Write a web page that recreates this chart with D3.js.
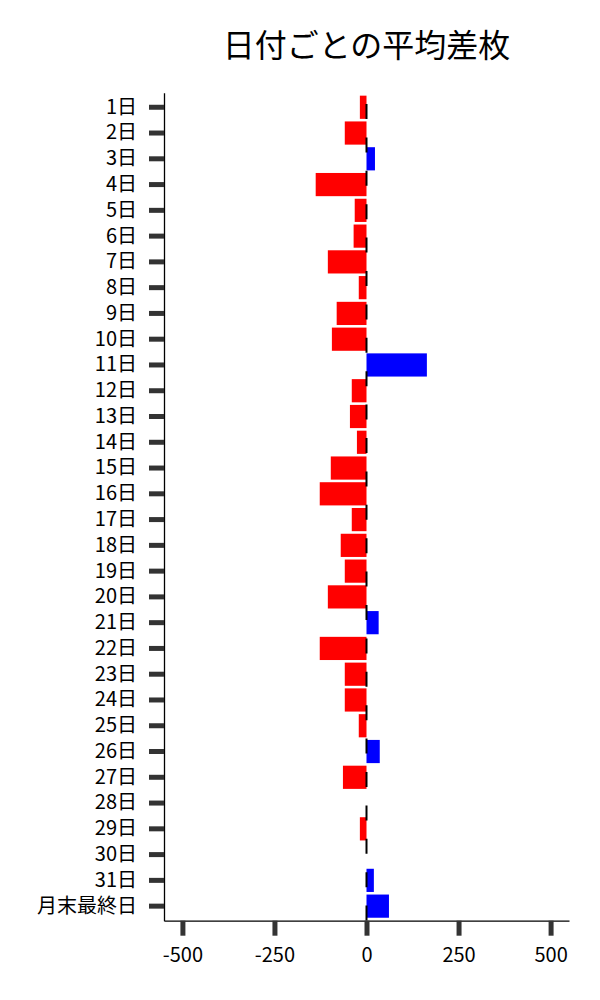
<!DOCTYPE html>
<html>
<head>
<meta charset="utf-8">
<script src="https://cdn.jsdelivr.net/npm/d3@7"></script>
<style>
  body { margin: 0; background: #fff; }
  svg { font-family: "Noto Sans CJK JP", "Noto Sans", sans-serif; }
</style>
</head>
<body>
<div id="container"></div>
<script>
// data
const days = ['1日','2日','3日','4日','5日','6日','7日','8日','9日','10日',
  '11日','12日','13日','14日','15日','16日','17日','18日','19日','20日',
  '21日','22日','23日','24日','25日','26日','27日','28日','29日','30日',
  '31日','月末最終日'];

const diffs = [-18, -59, 23, -138, -32, -35, -105, -21, -81, -94,
  164, -40, -45, -26, -97, -127, -40, -70, -59, -105,
  33, -127, -59, -59, -21, 36, -64, 0, -18, 0,
  20, 61];

const xTicks = [-500, -250, 0, 250, 500];
const title = '日付ごとの平均差枚';

const width = 600;
const height = 1000;
const plotLeft = 164, plotRight = 569, plotTop = 92.7, plotBottom = 920.7;

const svg = d3.select('#container')
  .append('svg')
  .attr('width', width)
  .attr('height', height);

const xScale = d3.scaleLinear()
  .domain([-550, 550])
  .range([plotLeft, plotRight]);

const yScale = d3.scaleBand()
  .domain(days)
  .range([plotTop, plotBottom])
  .paddingInner(0.1)
  .paddingOuter(0.115);

const data = days.map((d, i) => ({ day: d, value: diffs[i] }));

// bars
svg.selectAll('rect.bar')
  .data(data)
  .enter()
  .append('rect')
  .attr('class', 'bar')
  .attr('x', d => xScale(Math.min(0, d.value)))
  .attr('y', d => yScale(d.day))
  .attr('width', d => Math.abs(xScale(d.value) - xScale(0)))
  .attr('height', yScale.bandwidth())
  .attr('fill', d => d.value < 0 ? '#ff0000' : '#0000ff');

// zero line
const period = 33.4;
svg.append('line')
  .attr('x1', xScale(0))
  .attr('x2', xScale(0))
  .attr('y1', plotTop)
  .attr('y2', plotBottom)
  .attr('stroke', '#000')
  .attr('stroke-width', 2)
  .attr('stroke-dasharray', '15,18.4')
  .attr('stroke-dashoffset', period - 11.3);

// axes
const yAxis = d3.axisLeft(yScale)
  .tickSize(15)
  .tickSizeOuter(0)
  .tickPadding(12);

const gy = svg.append('g')
  .attr('transform', `translate(${plotLeft},0)`)
  .call(yAxis);

const xAxis = d3.axisBottom(xScale)
  .tickValues(xTicks)
  .tickFormat(d => String(d))
  .tickSize(15)
  .tickSizeOuter(0)
  .tickPadding(12);

const gx = svg.append('g')
  .attr('transform', `translate(0,${plotBottom})`)
  .call(xAxis);

[gx, gy].forEach(g => {
  g.select('.domain').attr('stroke', '#000').attr('stroke-width', 1.3);
  g.selectAll('.tick line').attr('stroke', '#333').attr('stroke-width', 5);
  g.selectAll('.tick text')
    .attr('fill', '#000')
    .style('font-size', '20px')
    .style('font-family', '"Noto Sans CJK JP", sans-serif');
});

// title
svg.append('text')
  .attr('x', (plotLeft + plotRight) / 2)
  .attr('y', 43)
  .attr('text-anchor', 'middle')
  .attr('dominant-baseline', 'central')
  .style('font-size', '32px')
  .text(title);
</script>
</body>
</html>
